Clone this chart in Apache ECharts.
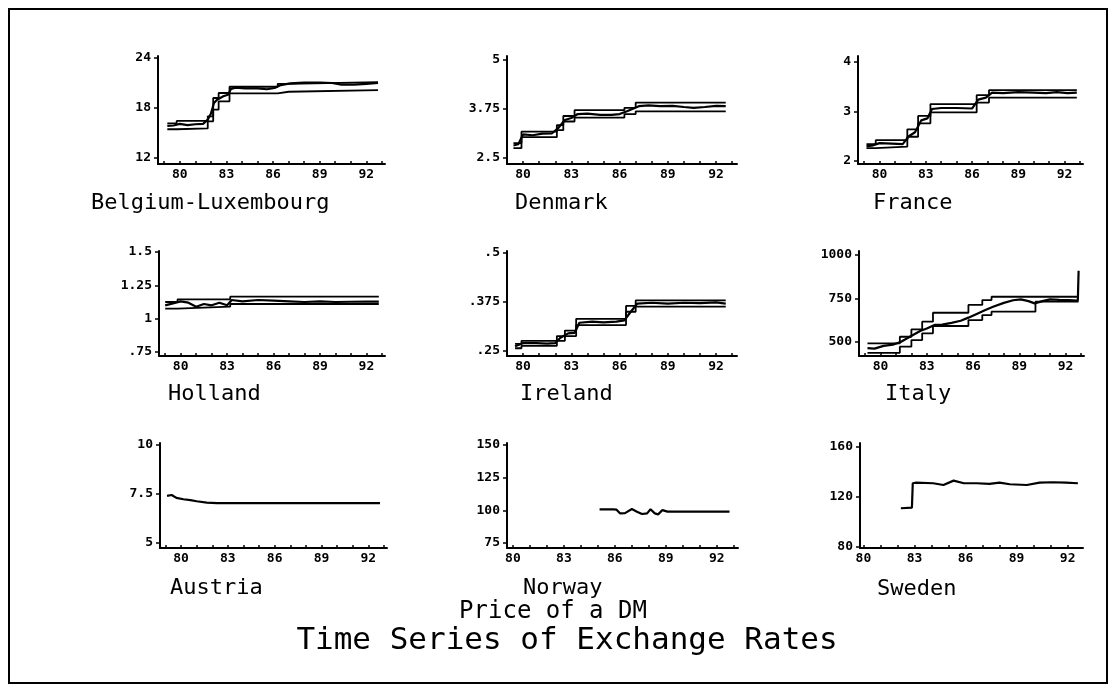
<!DOCTYPE html>
<html><head><meta charset="utf-8">
<script src="https://cdn.jsdelivr.net/npm/echarts@6/dist/echarts.min.js"></script>
<style>html,body{margin:0;padding:0;background:#fff}#c{width:1117px;height:692px}</style>
</head><body><div id="c"></div>
<script>
// ---------- DATA (year, price of one DM) ----------
const xLabelYears = [80, 83, 86, 89, 92];
const xTickYears = [79, 80, 81, 82, 83, 84, 85, 86, 87, 88, 89, 90, 91, 92, 93];

const belgiumUpper = [[79.2,16.15],[79.8,16.45],[81.8,17.0],[82.15,19.2],[82.5,19.8],[83.2,20.55],[86.3,20.9],[87.0,21.1],[92.75,21.1]];
const belgiumLower = [[79.2,15.45],[79.8,15.55],[81.8,16.4],[82.15,17.8],[82.5,18.8],[83.2,19.75],[86.3,19.95],[87.0,20.15],[92.75,20.15]];
const belgiumRate = [[79.2,15.85],[79.6,15.9],[80.0,16.1],[80.5,15.95],[81.0,16.05],[81.5,16.1],[81.8,16.6],[82.0,17.3],[82.2,18.6],[82.4,19.0],[82.8,19.4],[83.1,19.6],[83.3,20.3],[83.6,20.45],[84.2,20.35],[85.0,20.35],[85.6,20.25],[86.1,20.4],[86.5,20.75],[87.1,20.95],[88.0,21.05],[89.0,21.05],[89.8,21.0],[90.4,20.8],[91.2,20.8],[92.0,20.9],[92.75,21.0]];
const belgiumTicks = [12, 18, 24];
const belgiumTickText = ['12', '18', '24'];

const denmarkUpper = [[79.4,2.88],[79.9,3.17],[82.1,3.34],[82.5,3.57],[83.2,3.72],[86.3,3.78],[87.0,3.91],[92.6,3.9]];
const denmarkLower = [[79.4,2.75],[79.9,3.03],[82.1,3.21],[82.5,3.43],[83.2,3.53],[86.3,3.62],[87.0,3.69],[92.6,3.69]];
const denmarkRate = [[79.4,2.82],[79.7,2.85],[80.0,3.1],[80.6,3.08],[81.2,3.12],[81.8,3.13],[82.2,3.27],[82.6,3.47],[83.0,3.52],[83.4,3.62],[84.0,3.63],[84.8,3.6],[85.5,3.6],[86.0,3.62],[86.5,3.7],[87.2,3.82],[87.8,3.84],[88.5,3.82],[89.3,3.83],[90.0,3.8],[90.6,3.78],[91.3,3.8],[92.0,3.83],[92.6,3.82]];
const denmarkTicks = [2.5, 3.75, 5];
const denmarkTickText = ['2.5', '3.75', '5'];

const franceUpper = [[79.15,2.34],[79.75,2.42],[81.8,2.64],[82.5,2.91],[83.3,3.15],[86.3,3.33],[87.1,3.43],[92.8,3.43]];
const franceLower = [[79.15,2.26],[79.75,2.29],[81.8,2.49],[82.5,2.76],[83.3,2.98],[86.3,3.18],[87.1,3.28],[92.8,3.27]];
const franceRate = [[79.15,2.3],[79.5,2.31],[80.0,2.36],[80.8,2.35],[81.5,2.34],[81.9,2.5],[82.3,2.58],[82.7,2.82],[83.1,2.86],[83.4,3.05],[84.0,3.07],[85.0,3.07],[86.0,3.06],[86.4,3.24],[86.9,3.28],[87.3,3.38],[88.0,3.37],[89.0,3.39],[90.0,3.38],[90.8,3.37],[91.5,3.39],[92.2,3.37],[92.8,3.38]];
const franceTicks = [2, 3, 4];
const franceTickText = ['2', '3', '4'];

const hollandUpper = [[79.0,1.125],[79.8,1.145],[83.2,1.165],[92.8,1.165]];
const hollandLower = [[79.0,1.075],[79.8,1.09],[83.2,1.11],[92.8,1.11]];
const hollandRate = [[79.0,1.1],[79.5,1.115],[80.0,1.13],[80.5,1.12],[81.0,1.09],[81.5,1.11],[82.0,1.1],[82.5,1.12],[83.0,1.1],[83.3,1.14],[84.0,1.13],[85.0,1.14],[86.0,1.135],[87.0,1.13],[88.0,1.125],[89.0,1.13],[90.0,1.125],[91.0,1.127],[92.0,1.128],[92.8,1.128]];
const hollandTicks = [0.75, 1, 1.25, 1.5];
const hollandTickText = ['.75', '1', '1.25', '1.5'];

const irelandUpper = [[79.5,0.268],[79.9,0.276],[82.1,0.288],[82.6,0.302],[83.3,0.332],[86.4,0.365],[87.0,0.379],[92.6,0.378]];
const irelandLower = [[79.5,0.257],[79.9,0.263],[82.1,0.276],[82.6,0.288],[83.3,0.316],[86.4,0.35],[87.0,0.363],[92.6,0.363]];
const irelandRate = [[79.5,0.262],[80.0,0.27],[80.8,0.27],[81.5,0.269],[82.0,0.27],[82.3,0.283],[82.8,0.295],[83.2,0.296],[83.5,0.322],[84.3,0.325],[85.0,0.323],[85.8,0.325],[86.3,0.328],[86.6,0.345],[87.1,0.371],[88.0,0.373],[89.0,0.371],[90.0,0.373],[91.0,0.372],[92.0,0.374],[92.6,0.371]];
const irelandTicks = [0.25, 0.375, 0.5];
const irelandTickText = ['.25', '.375', '.5'];

const italyUpper = [[79.15,492],[81.25,530],[82.0,573],[82.7,617],[83.4,668],[85.7,713],[86.6,741],[87.2,760],[92.85,760]];
const italyLower = [[79.15,438],[81.25,473],[82.0,511],[82.7,550],[83.4,592],[85.7,626],[86.6,655],[87.2,674],[90.05,732],[92.85,732]];
const italyRate = [[79.15,465],[79.6,462],[80.2,478],[80.8,485],[81.3,500],[81.7,520],[82.1,540],[82.6,565],[83.0,578],[83.5,598],[84.0,600],[84.6,610],[85.2,622],[85.7,640],[86.2,660],[86.8,684],[87.3,703],[88.0,725],[88.6,740],[89.1,745],[89.6,735],[90.0,722],[90.5,735],[91.0,745],[91.6,742],[92.2,741],[92.8,738],[92.85,740],[92.85,910]];
const italyTicks = [500, 750, 1000];
const italyTickText = ['500', '750', '1000'];

const austriaRate = [[79.1,7.4],[79.4,7.45],[79.7,7.3],[80.15,7.23],[80.6,7.19],[81.0,7.13],[81.65,7.06],[82.3,7.03],[83.5,7.03],[86.0,7.03],[89.0,7.03],[92.75,7.03]];
const austriaTicks = [5, 7.5, 10];
const austriaTickText = ['5', '7.5', '10'];

const norwayRate = [[85.1,100.8],[85.9,100.8],[86.1,100.5],[86.3,97.7],[86.6,97.9],[87.0,101.0],[87.3,99.0],[87.6,97.2],[87.9,97.7],[88.1,100.8],[88.35,97.7],[88.55,96.9],[88.8,100.2],[89.1,99.0],[89.6,99.0],[92.75,99.0]];
const norwayTicks = [75, 100, 125, 150];
const norwayTickText = ['75', '100', '125', '150'];

const swedenRate = [[82.2,111.0],[82.85,111.5],[82.9,131.0],[83.1,131.5],[84.1,131.0],[84.7,129.6],[85.3,133.1],[85.9,131.0],[86.65,131.0],[87.4,130.5],[88.0,131.5],[88.6,130.2],[89.6,129.6],[90.35,131.5],[91.1,131.8],[91.9,131.5],[92.6,131.0]];
const swedenTicks = [80, 120, 160];
const swedenTickText = ['80', '120', '160'];

const countryNames = ['Belgium-Luxembourg','Denmark','France','Holland','Ireland','Italy','Austria','Norway','Sweden'];
const subTitle = 'Price of a DM';
const mainTitle = 'Time Series of Exchange Rates';

// ---------- LAYOUT ----------
const panels = [
  {lines:[belgiumUpper,belgiumLower,belgiumRate], steps:[1,1,0], ticks:belgiumTicks, tickText:belgiumTickText, grid:[158,56,227,108], x:[78.6,93.2], y:[11.28,24.24], name:[91,203]},
  {lines:[denmarkUpper,denmarkLower,denmarkRate], steps:[1,1,0], ticks:denmarkTicks, tickText:denmarkTickText, grid:[507,56,230,108], x:[79.0,93.3], y:[2.347,5.10], name:[515,203]},
  {lines:[franceUpper,franceLower,franceRate], steps:[1,1,0], ticks:franceTicks, tickText:franceTickText, grid:[858,56,225,108], x:[78.6,93.2], y:[1.939,4.121], name:[873,203]},
  {lines:[hollandUpper,hollandLower,hollandRate], steps:[1,1,0], ticks:hollandTicks, tickText:hollandTickText, grid:[159,251,226,105], x:[78.6,93.2], y:[0.72,1.5075], name:[168,394]},
  {lines:[irelandUpper,irelandLower,irelandRate], steps:[1,1,0], ticks:irelandTicks, tickText:irelandTickText, grid:[507,251,230,105], x:[79.0,93.3], y:[0.2372,0.505], name:[520,394]},
  {lines:[italyUpper,italyLower,italyRate], steps:[1,1,0], ticks:italyTicks, tickText:italyTickText, grid:[859,251,225,105], x:[78.6,93.2], y:[419.5,1023], name:[885,394]},
  {lines:[austriaRate], steps:[0], ticks:austriaTicks, tickText:austriaTickText, grid:[160,443,227,105], x:[78.65,93.2], y:[4.745,10.10], name:[170,588]},
  {lines:[norwayRate], steps:[0], ticks:norwayTicks, tickText:norwayTickText, grid:[507,443,231,105], x:[79.65,93.25], y:[71.2,151.5], name:[523,588]},
  {lines:[swedenRate], steps:[0], ticks:swedenTicks, tickText:swedenTickText, grid:[860,443,223,105], x:[79.8,92.9], y:[79.2,163.2], name:[877,589]}
];

const MONO = '"DejaVu Sans Mono", "Liberation Mono", monospace';
const grids = [], xAxes = [], yAxes = [], series = [], graphics = [];

panels.forEach((p, i) => {
  grids.push({left:p.grid[0], top:p.grid[1], width:p.grid[2], height:p.grid[3], containLabel:false});
  const ticksX = xTickYears.filter(v => v >= p.x[0] && v <= p.x[1]);
  xAxes.push({
    type:'value', gridIndex:i, min:p.x[0], max:p.x[1],
    axisLine:{show:true, onZero:false, lineStyle:{color:'#000', width:2}},
    axisTick:{show:true, inside:true, length:3, lineStyle:{color:'#000', width:1.5}, customValues:ticksX},
    axisLabel:{show:true, customValues:xLabelYears, color:'#000', margin:4, fontFamily:MONO, fontWeight:'bold', fontSize:13, formatter:v => String(Math.round(v))},
    splitLine:{show:false}
  });
  yAxes.push({
    type:'value', gridIndex:i, min:p.y[0], max:p.y[1],
    axisLine:{show:true, onZero:false, lineStyle:{color:'#000', width:2}},
    axisTick:{show:true, inside:false, length:4, lineStyle:{color:'#000', width:1.5}, customValues:p.ticks},
    axisLabel:{show:true, customValues:p.ticks, color:'#000', margin:7, fontFamily:MONO, fontWeight:'bold', fontSize:13,
      formatter:v => { const k = p.ticks.findIndex(t => Math.abs(t - v) < 1e-9); return k >= 0 ? p.tickText[k] : ''; }},
    splitLine:{show:false}
  });
  p.lines.forEach((d, j) => {
    series.push({
      type:'line', xAxisIndex:i, yAxisIndex:i, data:d, step:p.steps[j] ? 'end' : false,
      showSymbol:false, symbol:'none', silent:true, clip:true,
      lineStyle:{color:'#000', width:p.steps[j] ? 1.8 : 2.2}
    });
  });
  graphics.push({type:'text', x:p.name[0], y:p.name[1],
    style:{text:countryNames[i], font:'22px ' + MONO, fill:'#000', textAlign:'left', textVerticalAlign:'middle'}});
});

graphics.push({type:'text', x:553, y:612, style:{text:subTitle, font:'24px ' + MONO, fill:'#000', textAlign:'center', textVerticalAlign:'middle'}});
graphics.push({type:'text', x:567, y:641, style:{text:mainTitle, font:'31px ' + MONO, fill:'#000', textAlign:'center', textVerticalAlign:'middle'}});
graphics.push({type:'rect', shape:{x:9, y:9, width:1098, height:674}, style:{fill:'none', stroke:'#000', lineWidth:2}, silent:true});

const chart = echarts.init(document.getElementById('c'), null, {renderer:'canvas'});
chart.setOption({
  animation:false,
  backgroundColor:'#fff',
  grid:grids, xAxis:xAxes, yAxis:yAxes, series:series,
  graphic:{elements:graphics}
});
</script>
</body></html>
